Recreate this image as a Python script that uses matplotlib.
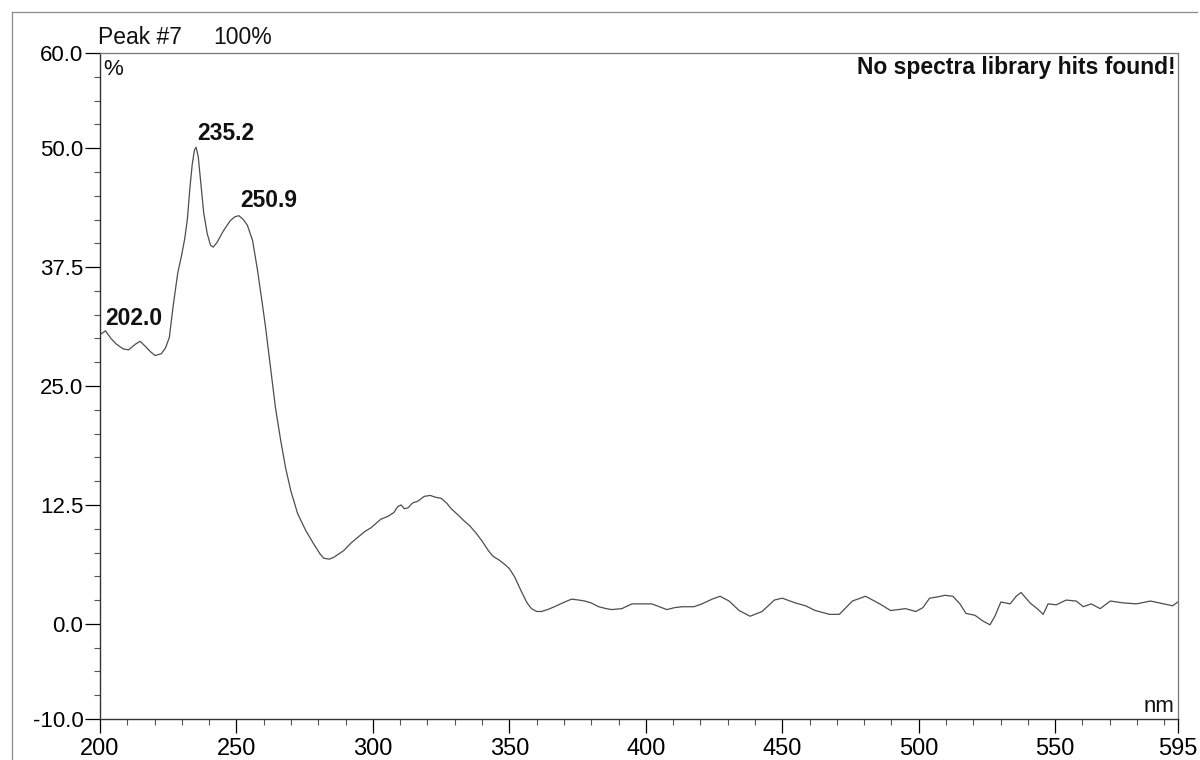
import numpy as np
import matplotlib
matplotlib.use('Agg')
import matplotlib.pyplot as plt
from matplotlib.lines import Line2D
from matplotlib.ticker import MultipleLocator, FixedLocator

plt.rcParams['font.family'] = ['Liberation Sans', 'DejaVu Sans']

# UV spectrum of peak #7 (wavelength in nm, response in %)
wavelength = [200.0, 202.0, 204.0, 206.0, 208.5, 210.5, 213.0, 214.7, 216.5, 218.5,
              220.2, 222.5, 224.0, 225.4, 226.8, 228.5, 229.8, 231.0, 232.0, 233.0,
              233.8, 234.6, 235.2, 236.0, 237.0, 238.0, 239.3, 240.5, 241.5, 242.9,
              245.2, 247.8, 249.5, 250.9, 252.5, 254.0, 255.9, 257.7, 259.6, 260.7,
              262.5, 264.3, 266.2, 268.0, 269.9, 272.4, 275.4, 278.3, 280.5, 282.0,
              284.0, 285.7, 289.3, 292.0, 294.5, 297.0, 299.3, 302.9, 305.5, 307.7,
              309.0, 310.3, 311.5, 312.9, 314.5, 316.5, 318.8, 321.0, 323.0, 325.0,
              327.0, 328.7, 331.0, 333.5, 335.5, 337.9, 340.0, 342.3, 344.0, 346.3,
              348.5, 350.0, 352.0, 354.4, 356.5, 358.1, 360.0, 361.8, 364.0, 366.5,
              369.5, 372.8, 375.5, 377.6, 380.0, 382.7, 385.5, 387.5, 391.2, 394.9,
              398.0, 402.2, 405.0, 407.7, 410.5, 413.2, 417.6, 420.6, 424.3, 427.2,
              430.5, 434.2, 438.2, 442.6, 447.1, 450.0, 454.8, 458.5, 462.1, 467.3,
              470.9, 475.7, 480.5, 485.7, 489.7, 492.5, 495.2, 498.9, 501.5, 504.0,
              506.3, 509.6, 512.5, 515.1, 517.3, 520.6, 523.5, 526.1, 527.9, 530.1,
              533.5, 535.7, 537.5, 540.8, 543.8, 545.6, 547.4, 550.4, 554.0, 557.7,
              560.3, 563.2, 566.5, 570.2, 575.0, 579.8, 584.9, 589.7, 593.0, 595.0]
response = [30.4, 30.8, 30.0, 29.4, 28.9, 28.8, 29.4, 29.7, 29.2, 28.6,
            28.2, 28.4, 29.0, 30.1, 33.4, 36.9, 38.6, 40.4, 42.5, 46.0,
            48.3, 49.8, 50.1, 49.1, 46.2, 43.2, 41.0, 39.8, 39.6, 40.1,
            41.3, 42.4, 42.8, 42.9, 42.5, 41.9, 40.3, 37.2, 33.4, 31.1,
            26.9, 22.7, 19.3, 16.4, 14.0, 11.6, 9.8, 8.4, 7.4, 6.9,
            6.8, 7.0, 7.7, 8.5, 9.1, 9.7, 10.1, 11.0, 11.3, 11.7,
            12.3, 12.5, 12.1, 12.2, 12.7, 12.9, 13.4, 13.5, 13.3, 13.2,
            12.7, 12.1, 11.5, 10.8, 10.3, 9.5, 8.7, 7.7, 7.1, 6.7,
            6.2, 5.8, 4.9, 3.4, 2.2, 1.6, 1.3, 1.3, 1.5, 1.8,
            2.2, 2.6, 2.5, 2.4, 2.2, 1.8, 1.6, 1.5, 1.6, 2.1,
            2.1, 2.1, 1.8, 1.5, 1.7, 1.8, 1.8, 2.1, 2.6, 2.9,
            2.4, 1.4, 0.8, 1.3, 2.5, 2.7, 2.2, 1.9, 1.4, 1.0,
            1.0, 2.4, 2.9, 2.1, 1.4, 1.5, 1.6, 1.3, 1.7, 2.7,
            2.8, 3.0, 2.9, 2.1, 1.1, 0.9, 0.3, -0.1, 0.8, 2.3,
            2.1, 2.9, 3.3, 2.2, 1.5, 1.0, 2.1, 2.0, 2.5, 2.4,
            1.8, 2.1, 1.6, 2.4, 2.2, 2.1, 2.4, 2.1, 1.9, 2.3]

peak_nm = [202.0, 235.2, 250.9]
# label offsets in pixels (right, up) from each peak top
peak_offsets = [(0, 6), (1, 7), (1, 9)]

y_ticks = [60.0, 50.0, 37.5, 25.0, 12.5, 0.0, -10.0]
x_ticks = [200, 250, 300, 350, 400, 450, 500, 550, 595]

W, H = 1200, 760
fig = plt.figure(figsize=(W / 100, H / 100), dpi=100)
fig.patch.set_facecolor('white')

# page frame around the printout
fig.add_artist(Line2D([12 / W, 1197 / W], [1 - 12 / H, 1 - 12 / H], color='#8a8a8a', lw=0.9))
fig.add_artist(Line2D([12 / W, 12 / W], [0, 1 - 12 / H], color='#8a8a8a', lw=0.9))

ax = fig.add_axes([100 / W, 41 / H, 1078 / W, 666 / H])
ax.plot(wavelength, response, color='#4d4d4d', lw=0.9)

ax.set_xlim(200, 595)
ax.set_ylim(-10, 60)

ax.yaxis.set_major_locator(FixedLocator(y_ticks))
ax.set_yticklabels(['%.1f' % v for v in y_ticks])
ax.yaxis.set_minor_locator(MultipleLocator(2.5))
ax.xaxis.set_major_locator(FixedLocator(x_ticks))
ax.set_xticklabels([str(v) for v in x_ticks])
ax.xaxis.set_minor_locator(MultipleLocator(10))

ax.tick_params(axis='y', which='major', direction='out', length=11, width=0.9, pad=1, labelsize=16)
ax.tick_params(axis='y', which='minor', direction='out', length=4, width=0.8, color='#555555')
ax.tick_params(axis='x', which='major', direction='out', length=10, width=0.9, pad=4, labelsize=17)
ax.tick_params(axis='x', which='minor', direction='out', length=4, width=0.8, color='#555555')

for side in ['left', 'bottom']:
    ax.spines[side].set_color('#333333')
    ax.spines[side].set_linewidth(1.0)
for side in ['top', 'right']:
    ax.spines[side].set_color('#777777')
    ax.spines[side].set_linewidth(0.9)

# peak labels
for nm, off in zip(peak_nm, peak_offsets):
    val = np.interp(nm, wavelength, response)
    ax.annotate('%.1f' % nm, xy=(nm, val), xytext=off, textcoords='offset pixels',
                ha='left', va='baseline', fontsize=16.5, fontweight='bold', color='#111111')

# header and units
fig.text(98 / W, 1 - 44 / H, 'Peak #7', fontsize=16.5, ha='left', va='baseline', color='#111111')
fig.text(213 / W, 1 - 44 / H, '100%', fontsize=16.5, ha='left', va='baseline', color='#111111')
fig.text(103 / W, 1 - 75 / H, '%', fontsize=16, ha='left', va='baseline', color='#111111')
fig.text(1176 / W, 1 - 74 / H, 'No spectra library hits found!', fontsize=16.5,
         fontweight='bold', ha='right', va='baseline', color='#111111')
fig.text(1174 / W, 1 - 712 / H, 'nm', fontsize=16, ha='right', va='baseline', color='#111111')

fig.savefig('out.png', dpi=100, facecolor='white')
